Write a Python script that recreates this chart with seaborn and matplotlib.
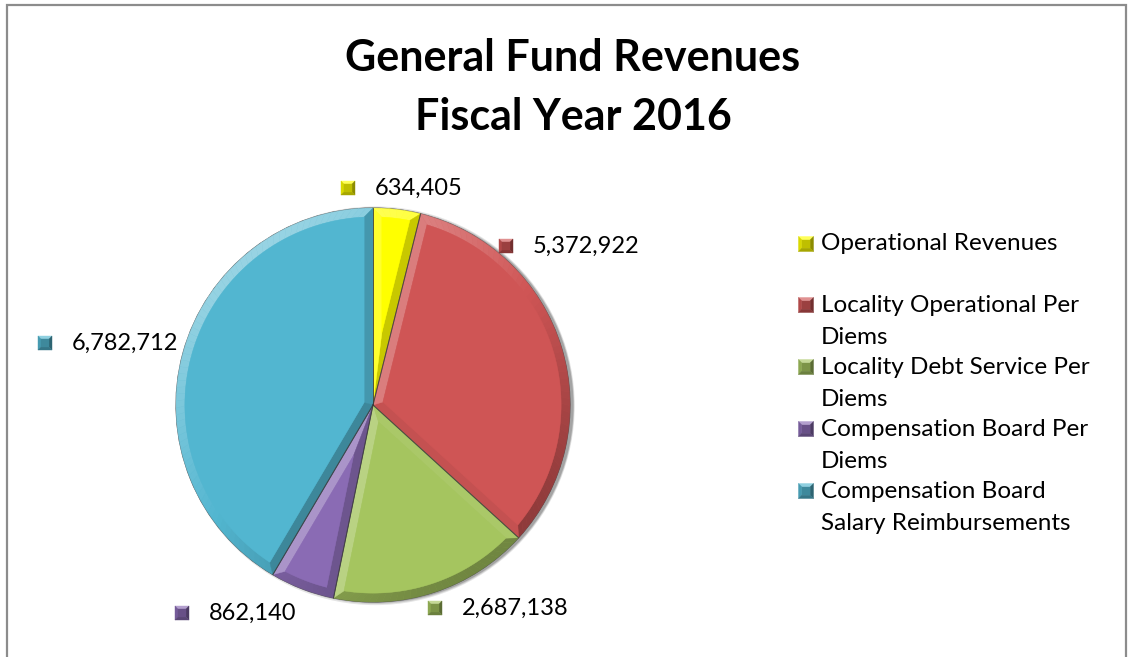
import numpy as np
import matplotlib
matplotlib.use("Agg")
import matplotlib.pyplot as plt
import seaborn as sns
from matplotlib.patches import Polygon, Rectangle, Circle
from matplotlib.colors import to_rgb

# ---- data -------------------------------------------------------------
categories = [
    "Operational Revenues",
    "Locality Operational Per Diems",
    "Locality Debt Service Per Diems",
    "Compensation Board Per Diems",
    "Compensation Board Salary Reimbursements",
]
legend_lines = [
    ["Operational Revenues"],
    ["Locality Operational Per", "Diems"],
    ["Locality Debt Service Per", "Diems"],
    ["Compensation Board Per", "Diems"],
    ["Compensation Board", "Salary Reimbursements"],
]
values = [634405, 5372922, 2687138, 862140, 6782712]
title_lines = ["General Fund Revenues", "Fiscal Year 2016"]

# ---- style ------------------------------------------------------------
sns.set_theme(style="white")
plt.rcParams["font.family"] = ["Lato", "DejaVu Sans"]

colors = ["#FFFF00", "#CF5555", "#A5C55F", "#8A6BB4", "#52B6D0"]

W, H = 1130, 657
fig = plt.figure(figsize=(W / 100, H / 100), dpi=100)
fig.patch.set_facecolor("white")

# outer chart frame
fig.add_artist(Rectangle((7 / W, -0.01), (1126 - 7) / W, 1.01 - 5 / H,
                         transform=fig.transFigure, fill=False,
                         edgecolor="#8c8c8c", linewidth=1.6))

# pie axes: centre (373, 405) px, radius 197 px
cx, cy, r = 373, 405, 197
ax = fig.add_axes([(cx - r) / W, (H - cy - r) / H, 2 * r / W, 2 * r / H])

wedges, _ = ax.pie(values, colors=colors, startangle=90, counterclock=False,
                   radius=1.0, wedgeprops=dict(linewidth=0.8,
                                               edgecolor="#555555"))
for w in wedges:
    w.set_zorder(1)
ax.set_xlim(-1, 1)
ax.set_ylim(-1, 1)
ax.set_aspect("auto")
ax.axis("off")

# soft shadow behind the pie
for k, a in enumerate([0.10, 0.12, 0.18]):
    ax.add_patch(Circle((0.012 + 0.003 * k, -0.004), 1.0 + 0.006 * (2 - k),
                        color="black", alpha=a, zorder=0, linewidth=0,
                        clip_on=False))

light = np.array([-0.6, 0.8])


def shade(base, nx, ny, hi=0.40, lo=0.32):
    c = np.array(to_rgb(base))
    d = nx * light[0] + ny * light[1]
    if d > 0:
        return tuple(c + (1 - c) * hi * d)
    return tuple(c * (1 + lo * d))


def u(deg):
    t = np.radians(deg)
    return np.array([np.cos(t), np.sin(t)])


# bevelled faces built from each wedge's own angles
b = 0.045
R = 1.0
for w, col in zip(wedges, colors):
    t1, t2 = w.theta1, w.theta2
    half = np.radians((t2 - t1) / 2)
    P = (b / np.sin(half)) * u((t1 + t2) / 2)
    rin = R - b
    delta = np.degrees(np.arcsin(b / rin))
    i1, i2 = t1 + delta, t2 - delta
    # outer rim band
    n = max(int((t2 - t1) / 2), 4)
    to = np.linspace(t1, t2, n + 1)
    ti = np.linspace(i1, i2, n + 1)
    for k in range(n):
        poly = [R * u(to[k]), R * u(to[k + 1]), rin * u(ti[k + 1]), rin * u(ti[k])]
        mid = u((to[k] + to[k + 1]) / 2)
        fc = shade(col, mid[0], mid[1])
        ax.add_patch(Polygon(poly, closed=True, facecolor=fc, edgecolor=fc,
                             linewidth=0.3, zorder=2, clip_on=False))
    # radial edge bands
    for edge_t, inner_t, nrm in [(t1, i1, t1 - 90), (t2, i2, t2 + 90)]:
        poly = [np.zeros(2), R * u(edge_t), rin * u(inner_t), P]
        nv = u(nrm)
        fc = shade(col, nv[0], nv[1], hi=0.30, lo=0.28)
        ax.add_patch(Polygon(poly, closed=True, facecolor=fc, edgecolor=fc,
                             linewidth=0.3, zorder=2, clip_on=False))
    # flat top face
    arc = [rin * u(t) for t in np.linspace(i1, i2, 80)]
    ax.add_patch(Polygon([P] + arc, closed=True, facecolor=col,
                         edgecolor=col, linewidth=0.3, zorder=3,
                         clip_on=False))
    # thin dark seams
    for edge_t in (t1, t2):
        ax.plot([0, u(edge_t)[0]], [0, u(edge_t)[1]], color="#3a3a3a",
                lw=0.7, alpha=0.6, zorder=4, clip_on=False)


def bevel_square(x, y, col, size=14):
    """Small bevelled key centred at pixel (x, y)."""
    c = np.array(to_rgb(col))
    s = size / 2
    pts = lambda p: [((px) / W, (H - py) / H) for px, py in p]
    x0, x1, y0, y1 = x - s, x + s, y - s, y + s
    ins = 3.4
    xi0, xi1, yi0, yi1 = x0 + ins, x1 - ins, y0 + ins, y1 - ins
    faces = [
        ([(x0, y0), (x1, y0), (xi1, yi0), (xi0, yi0)], tuple(c + (1 - c) * 0.35)),
        ([(x0, y0), (xi0, yi0), (xi0, yi1), (x0, y1)], tuple(c * 0.85)),
        ([(x1, y0), (x1, y1), (xi1, yi1), (xi1, yi0)], tuple(c * 0.55)),
        ([(x0, y1), (x1, y1), (xi1, yi1), (xi0, yi1)], tuple(c * 0.65)),
        ([(xi0, yi0), (xi1, yi0), (xi1, yi1), (xi0, yi1)], tuple(c * 0.75)),
    ]
    for p, fc in faces:
        fig.add_artist(Polygon(pts(p), closed=True, transform=fig.transFigure,
                               facecolor=fc, edgecolor=fc, linewidth=0.3))


# title, two centred lines
for line, ty in zip(title_lines, [58, 117]):
    fig.text(573 / W, 1 - ty / H, line, ha="center", va="center",
             fontsize=31, fontweight="bold", color="black")

# value labels: key pixel position per slice (same order as values)
label_pos = [(348, 188), (506, 246), (435, 608), (182, 613), (45, 343)]
label_gap = 27
for val, col, (mx, my) in zip(values, colors, label_pos):
    bevel_square(mx, my, col)
    fig.text((mx + label_gap) / W, 1 - my / H, f"{val:,}", ha="left",
             va="center", fontsize=17, color="black")

# legend
leg_x = 806
leg_rows = [244, 305, 367, 429, 491]
line_h = 32.5
for lines, col, y in zip(legend_lines, colors, leg_rows):
    bevel_square(leg_x, y, col, size=15)
    for j, ln in enumerate(lines):
        fig.text((leg_x + 15) / W, 1 - (y + j * line_h) / H, ln, ha="left",
                 va="center", fontsize=17.5, color="black")

fig.savefig("out.png", dpi=100)
